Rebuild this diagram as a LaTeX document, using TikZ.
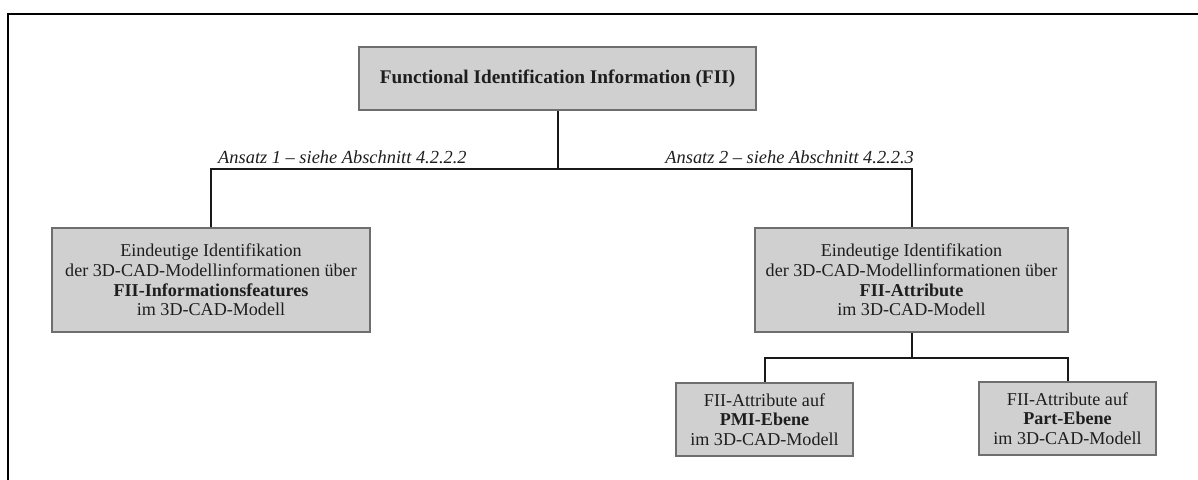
\documentclass[tikz,border=0pt]{standalone}
\usepackage{fontspec}
\setmainfont{Liberation Serif}
\begin{document}
\begin{tikzpicture}[x=1pt,y=-1pt,
  box/.style={draw=boxline, fill=boxfill, line width=1.4pt, inner sep=0pt,
    align=center, text=textcol, font=\fontsize{18.1}{19.6}\selectfont},
  conn/.style={draw=black!90, line width=2pt},
  ansatz/.style={inner sep=0pt, text=textcol, font=\fontsize{18.4}{19}\selectfont\itshape}]
\definecolor{boxfill}{HTML}{D0D0D0}
\definecolor{boxline}{HTML}{6E6E6E}
\definecolor{textcol}{HTML}{1E1E1E}
\useasboundingbox (0,0) rectangle (1198,479);
\fill[white] (0,0) rectangle (1198,479);
% outer frame (top and left edges)
\draw[line width=2pt, line cap=rect] (8,479) -- (8,13.5) -- (1198,13.5);

% boxes
\node[box, minimum width=397pt, minimum height=63pt, font=\fontsize{19.3}{21}\selectfont\bfseries]
  (fii) at (557.5,78.5) {Functional Identification Information (FII)};
\node[box, minimum width=318pt, minimum height=104pt] (feat) at (211,280)
  {Eindeutige Identifikation\\der 3D-CAD-Modellinformationen über\\\textbf{FII-Informationsfeatures}\\im 3D-CAD-Modell};
\node[box, minimum width=313pt, minimum height=104pt] (attr) at (911.5,280)
  {Eindeutige Identifikation\\der 3D-CAD-Modellinformationen über\\\textbf{FII-Attribute}\\im 3D-CAD-Modell};
\node[box, minimum width=177pt, minimum height=73pt] (pmi) at (764.5,419.5)
  {FII-Attribute auf\\\textbf{PMI-Ebene}\\im 3D-CAD-Modell};
\node[box, minimum width=177pt, minimum height=73pt] (part) at (1067.5,418.5)
  {FII-Attribute auf\\\textbf{Part-Ebene}\\im 3D-CAD-Modell};

% junction points
\coordinate (j1) at (557.5,169);
\coordinate (j2) at (911.5,358);

% connectors
\draw[conn] (fii.south) -- (j1);
\draw[conn] (feat.north) |- (j1) -| (attr.north);
\draw[conn] (attr.south) -- (j2);
\draw[conn] (pmi.north) |- (j2) -| (part.north);

% branch labels
\node[ansatz, anchor=base west] (a1) at (218,163) {Ansatz 1 – siehe Abschnitt 4.2.2.2};
\node[ansatz, anchor=base east] (a2) at (914,163) {Ansatz 2 – siehe Abschnitt 4.2.2.3};
\end{tikzpicture}
\end{document}
